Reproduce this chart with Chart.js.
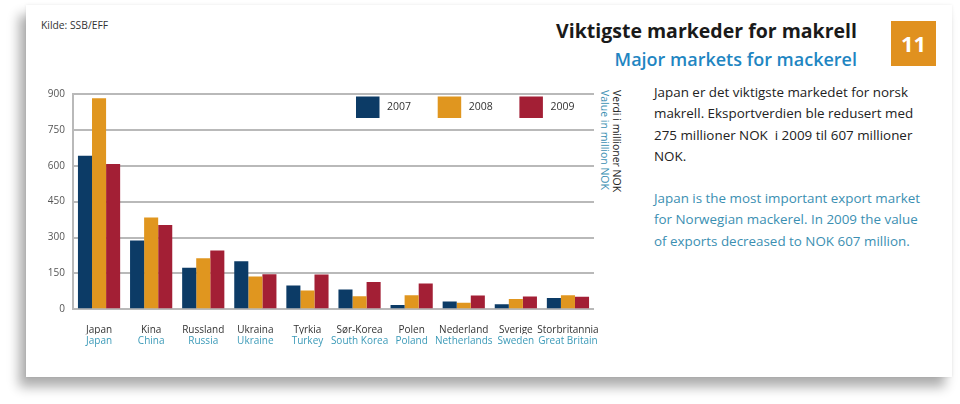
<!DOCTYPE html>
<html>
<head>
<meta charset="utf-8">
<script src="https://cdn.jsdelivr.net/npm/chart.js@4"></script>
<style>
  html, body { margin: 0; padding: 0; }
  body { width: 960px; height: 404px; background: #fff; position: relative; overflow: hidden; font-family: "Open Sans", sans-serif; }
  .card { position: absolute; left: 26px; top: 5px; width: 926px; height: 372px; background: #fff;
    box-shadow: -7px 10px 11px rgba(0,0,0,0.32), 0 0 3px rgba(0,0,0,0.08); }
  .kilde { position: absolute; left: 41px; top: 18px; font-size: 10.3px; color: #333; }
  .tittel { position: absolute; right: 103px; top: 17px; font-size: 19.5px; font-weight: 700; color: #1a1a1a; }
  .under { position: absolute; right: 103px; top: 47px; font-size: 18px; font-weight: 600; color: #1f86c2; }
  .nr { position: absolute; left: 891px; top: 21px; width: 45px; height: 45px; background: #e0911f; color: #fff;
    font-size: 22px; font-weight: 700; text-align: center; line-height: 45px; }
  .tekst { position: absolute; left: 654px; top: 82px; width: 275px; font-size: 13.4px; line-height: 21.3px; color: #222; }
  .tekst p { margin: 0 0 21px 0; }
  .tekst .en { color: #3b8fb2; }
  .enhet { position: absolute; left: 599px; top: 90px; writing-mode: vertical-rl; font-size: 10.5px; line-height: 12px; }
  .enhet span { display: block; }
  #wrap { position: absolute; left: 26px; top: 80px; width: 600px; height: 280px; }
</style>
</head>
<body>
<div class="card"></div>
<div class="kilde">Kilde: SSB/EFF</div>
<div class="tittel">Viktigste markeder for makrell</div>
<div class="under">Major markets for mackerel</div>
<div class="nr">11</div>
<div class="tekst">
  <p>Japan er det viktigste markedet for norsk makrell. Eksportverdien ble redusert med 275 millioner NOK&nbsp; i 2009 til 607 millioner NOK.</p>
  <p class="en">Japan is the most important export market for Norwegian mackerel. In 2009 the value of exports decreased to NOK 607 million.</p>
</div>
<div class="enhet"><span style="color:#222">Verdi i millioner NOK</span><span style="color:#3b8fb2">Value in million NOK</span></div>
<div id="wrap"><canvas id="grafMakrell"></canvas></div>

<script>
// data lest av figuren (millioner NOK)
let land = ['Japan', 'Kina', 'Russland', 'Ukraina', 'Tyrkia', 'Sør-Korea', 'Polen', 'Nederland', 'Sverige', 'Storbritannia']
let landEng = ['Japan', 'China', 'Russia', 'Ukraine', 'Turkey', 'South Korea', 'Poland', 'Netherlands', 'Sweden', 'Great Britain']
let aar = ['2007', '2008', '2009']
let verdi2007 = [642, 288, 174, 201, 99, 83, 18, 33, 21, 47]
let verdi2008 = [882, 384, 213, 137, 79, 55, 59, 27, 43, 59]
let verdi2009 = [607, 352, 246, 146, 145, 114, 108, 58, 54, 52]
let yTicks = [0, 150, 300, 450, 600, 750, 900]

let farger = ['#0c3b66', '#e0961f', '#a31f35']

// legend inne i plottet, oppe til hoyre
const legendInne = {
  id: 'legendInne',
  afterDraw(chart) {
    const ctx = chart.ctx
    const ca = chart.chartArea
    ctx.save()
    ctx.font = '10.5px "Open Sans"'
    ctx.textBaseline = 'middle'
    chart.data.datasets.forEach((ds, i) => {
      let x = ca.right - 238 + i * 81.7
      let y = ca.top + 2.5
      ctx.fillStyle = ds.backgroundColor
      ctx.fillRect(x, y, 23.5, 21.5)
      ctx.fillStyle = '#333'
      ctx.fillText(ds.label, x + 31, y + 11)
    })
    ctx.restore()
  }
}

new Chart(document.getElementById('grafMakrell'), {
  type: 'bar',
  data: {
    labels: land,
    datasets: [
      { label: aar[0], data: verdi2007, backgroundColor: farger[0] },
      { label: aar[1], data: verdi2008, backgroundColor: farger[1] },
      { label: aar[2], data: verdi2009, backgroundColor: farger[2] }
    ]
  },
  options: {
    responsive: true,
    maintainAspectRatio: false,
    animation: false,
    layout: { padding: { left: 0, right: 32, top: 11.7, bottom: 0 } },
    datasets: { bar: { categoryPercentage: 0.81, barPercentage: 1 } },
    plugins: { legend: { display: false }, tooltip: { enabled: false } },
    scales: {
      y: {
        min: 0, max: 900,
        afterBuildTicks: s => { s.ticks = yTicks.map(v => ({ value: v })) },
        afterFit: s => { s.width = 47 },
        grid: { color: '#b9b9b9', lineWidth: 2, drawTicks: false },
        border: { display: true, color: '#b9b9b9', width: 2 },
        ticks: { color: '#555', font: { size: 10, family: 'Open Sans' }, padding: 8 }
      },
      x: {
        afterFit: s => { s.height = 25 },
        grid: { display: false, drawTicks: false },
        border: { display: false },
        ticks: { color: '#333', font: { size: 10, family: 'Open Sans' }, padding: 15, maxRotation: 0, autoSkip: false }
      },
      x2: {
        type: 'category',
        labels: landEng,
        position: 'bottom',
        offset: true,
        afterFit: s => { s.height = 25.7 },
        grid: { display: false, drawTicks: false },
        border: { display: false },
        ticks: { color: '#3b9ab8', font: { size: 10, family: 'Open Sans' }, padding: 1, maxRotation: 0, autoSkip: false }
      }
    }
  },
  plugins: [legendInne]
})
</script>
</body>
</html>
